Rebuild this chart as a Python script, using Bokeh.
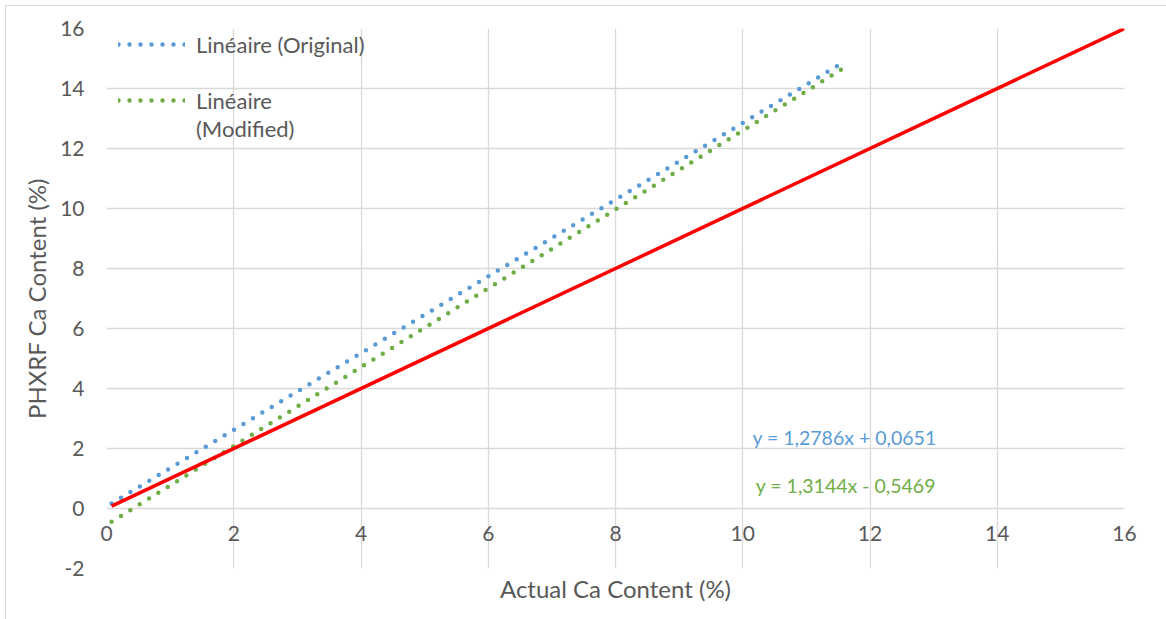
from bokeh.plotting import figure
from bokeh.models import Range1d, FixedTicker, Label, Legend, LegendItem
from bokeh.embed import file_html
from bokeh.resources import INLINE

# Linear fits of PHXRF against actual Ca content
fit_names = ["Linéaire (Original)", "Linéaire"]
fit_slopes = [1.2786, 1.3144]
fit_intercepts = [0.0651, -0.5469]
fit_x_start = [0.08, 0.08]
fit_x_end = [11.55, 11.62]
fit_colors = ["#5B9BD5", "#70AD47"]
fit_equations = ["y = 1,2786x + 0,0651", "y = 1,3144x - 0,5469"]
eq_pos_x = [11.6, 11.62]
eq_pos_y = [2.37, 0.78]

# 1:1 reference line
ref_x = [0.08, 16]
ref_y = [0.08, 16]

ticks_x = [0, 2, 4, 6, 8, 10, 12, 14, 16]
ticks_y = [-2, 0, 2, 4, 6, 8, 10, 12, 14, 16]

FONT = "Lato"
GREY = "#595959"

p = figure(
    frame_width=1018, frame_height=540,
    min_border_left=100, min_border_top=22, min_border_right=50, min_border_bottom=60,
    x_range=Range1d(0, 16), y_range=Range1d(-2, 16),
    output_backend="svg", toolbar_location=None,
    margin=(6, 0, 0, 6),
    styles={"outline": "1px solid #d9d9d9"},
)
p.outline_line_color = None
p.background_fill_color = "white"
p.border_fill_color = "white"

for ax in (p.xaxis[0], p.yaxis[0]):
    ax.axis_line_color = None
    ax.major_tick_line_color = None
    ax.minor_tick_line_color = None
    ax.major_tick_out = 0
    ax.major_tick_in = 0
    ax.major_label_text_font = FONT
    ax.major_label_text_font_size = "21px"
    ax.major_label_text_color = GREY
    ax.axis_label_text_font = FONT
    ax.axis_label_text_font_size = "24px"
    ax.axis_label_text_color = GREY
    ax.axis_label_text_font_style = "normal"

p.xaxis.ticker = FixedTicker(ticks=ticks_x)
p.yaxis.ticker = FixedTicker(ticks=ticks_y)
p.yaxis.major_label_overrides = {t: str(t) for t in ticks_y}
p.xaxis.axis_label = "Actual Ca Content (%)"
p.yaxis.axis_label = "PHXRF Ca Content (%)"
p.yaxis.major_label_standoff = 22
p.xaxis.major_label_standoff = -43
p.xaxis.axis_label_standoff = 30
p.yaxis.axis_label_standoff = 6

for g in (p.xgrid[0], p.ygrid[0]):
    g.grid_line_color = "#d9d9d9"
    g.grid_line_width = 1.3
p.xgrid.ticker = FixedTicker(ticks=ticks_x)
p.ygrid.ticker = FixedTicker(ticks=ticks_y)

fit_renderers = []
for m, b, x0, x1, c in zip(fit_slopes, fit_intercepts, fit_x_start, fit_x_end, fit_colors):
    xs = [x0, x1]
    ys = [m * x + b for x in xs]
    r = p.line(xs, ys, line_color=c, line_width=4.5, line_dash="0 11", line_cap="round")
    fit_renderers.append(r)

p.line(ref_x, ref_y, line_color="#FF0000", line_width=3.5)

for txt, ex, ey, c in zip(fit_equations, eq_pos_x, eq_pos_y, fit_colors):
    p.add_layout(Label(x=ex, y=ey, text=txt, text_color=c, text_font=FONT,
                       text_font_size="19.5px", text_align="center", text_baseline="middle"))

# blank legend rows: a spacer row and the wrapped second line of the second label
blank = p.line([], [], line_alpha=0)
legend = Legend(
    items=[
        LegendItem(label=fit_names[0], renderers=[fit_renderers[0]]),
        LegendItem(label=" ", renderers=[blank]),
        LegendItem(label=fit_names[1], renderers=[fit_renderers[1]]),
        LegendItem(label="(Modified)", renderers=[blank]),
    ],
    location=(12, 426),
)
legend.border_line_color = None
legend.background_fill_alpha = 0
legend.label_text_font = FONT
legend.label_text_font_size = "22px"
legend.label_text_color = GREY
legend.glyph_width = 67
legend.glyph_height = 28
legend.label_height = 28
legend.margin = 0
legend.padding = 0
legend.spacing = 0
legend.label_standoff = 11
p.add_layout(legend)

open("out.html", "w").write(file_html(p, INLINE))
